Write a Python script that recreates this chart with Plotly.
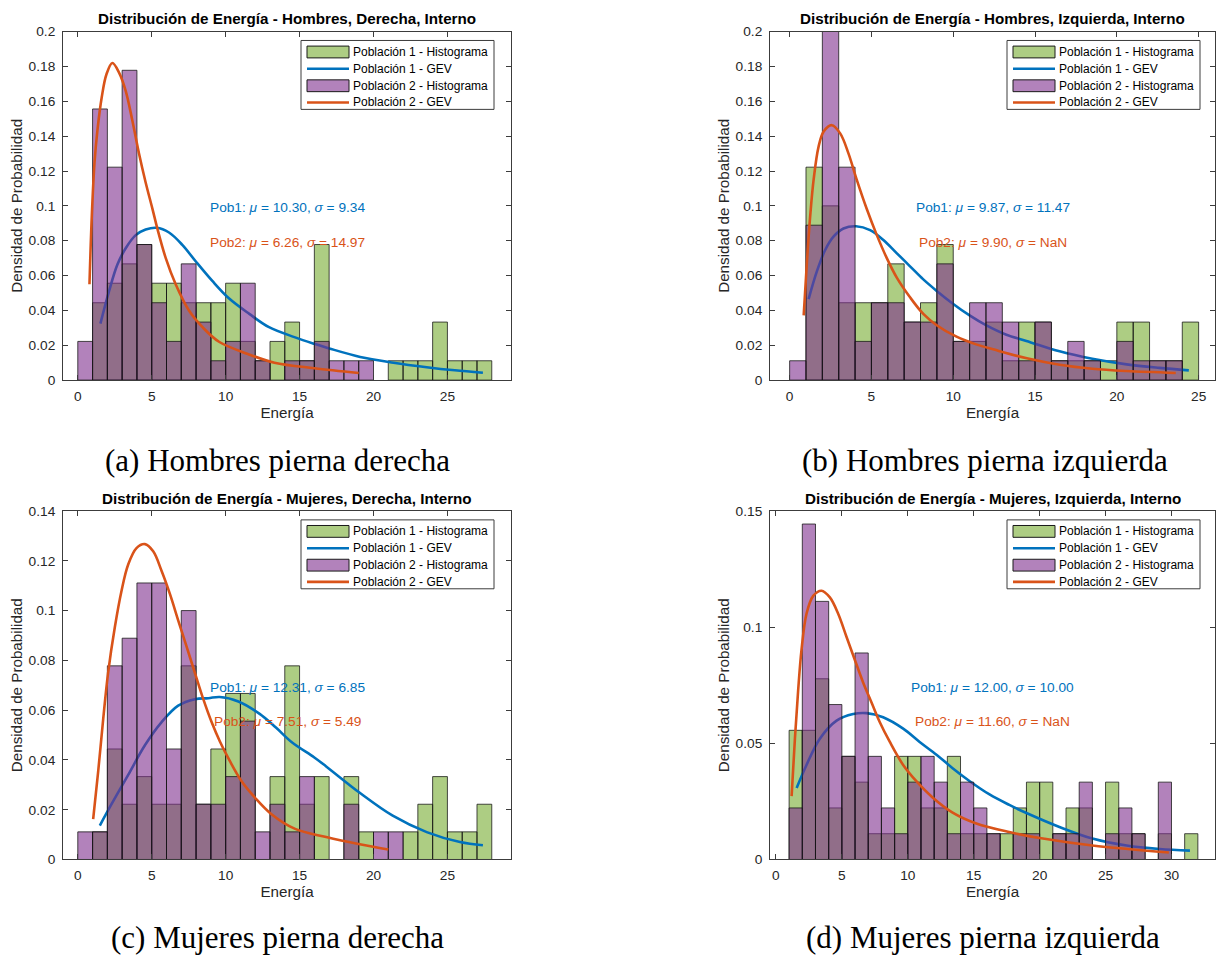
import plotly.graph_objects as go

W, H = 1216, 962
BIN_W = 1.0

# ---------------- (a) Hombres, Derecha ----------------
hd_pob1_start = 0
hd_pob1_dens = [0.0, 0.0444, 0.0556, 0.0667, 0.0778, 0.0556, 0.0556, 0.0444, 0.0444, 0.0444,
                0.0556, 0.0222, 0.0111, 0.0222, 0.0333, 0.0111, 0.0778, 0.0, 0.0, 0.0,
                0.0, 0.0111, 0.0111, 0.0111, 0.0333, 0.0111, 0.0111, 0.0111]
hd_pob2_start = 0
hd_pob2_dens = [0.0222, 0.1556, 0.1222, 0.1778, 0.0778, 0.0444, 0.0222, 0.0667, 0.0333, 0.0111,
                0.0222, 0.0556, 0.0111, 0.0, 0.0111, 0.0111, 0.0222, 0.0111, 0.0111, 0.0111]
hd_gev1_x = [1.53, 2.12, 2.68, 3.24, 3.92, 4.59, 5.34, 6.17, 7.07, 7.97, 9.1, 10.2, 11.6,
             12.9, 14.7, 16.0, 17.0, 19.1, 21.35, 23.6, 25.5, 27.4]
hd_gev1_y = [0.0324, 0.0512, 0.0663, 0.0757, 0.0832, 0.0864, 0.0874, 0.0847, 0.0776, 0.0682,
             0.0569, 0.0471, 0.038, 0.0305, 0.0245, 0.0208, 0.0182, 0.0133, 0.0100, 0.0074,
             0.0056, 0.0042]
hd_gev2_x = [0.79, 0.95, 1.13, 1.33, 1.62, 1.94, 2.34, 2.79, 3.24, 3.69, 4.14, 4.59, 5.05,
             5.38, 5.95, 6.62, 7.52, 8.42, 9.55, 11.5, 13.3, 16.0, 19.0]
hd_gev2_y = [0.055, 0.0945, 0.1247, 0.1435, 0.1623, 0.1755, 0.182, 0.1765, 0.166, 0.149,
             0.130, 0.1134, 0.0983, 0.087, 0.070, 0.055, 0.0399, 0.0305, 0.022, 0.015,
             0.010, 0.0068, 0.0041]
hd_stats = ("10.30", "9.34", "6.26", "14.97")

# ---------------- (b) Hombres, Izquierda ----------------
hi_pob1_start = 0
hi_pob1_dens = [0.0, 0.1222, 0.1, 0.0444, 0.0444, 0.0444, 0.0667, 0.0333, 0.0444, 0.0778,
                0.0222, 0.0222, 0.0333, 0.0111, 0.0333, 0.0333, 0.0111, 0.0111, 0.0111, 0.0111,
                0.0333, 0.0333, 0.0111, 0.0111, 0.0333]
hi_pob2_start = 0
hi_pob2_dens = [0.0111, 0.0889, 0.2111, 0.1222, 0.0222, 0.0444, 0.0444, 0.0333, 0.0333, 0.0667,
                0.0222, 0.0444, 0.0444, 0.0333, 0.0111, 0.0333, 0.0111, 0.0222, 0.0111, 0.0,
                0.0222, 0.0111, 0.0111, 0.0111]
hi_gev1_x = [1.16, 1.67, 2.18, 2.68, 3.29, 4.06, 4.92, 5.73, 6.54, 7.36, 8.17, 8.99, 10.0,
             11.0, 12.0, 13.25, 14.47, 16.5, 18.5, 20.6, 22.6, 24.4]
hi_gev1_y = [0.0465, 0.0625, 0.0748, 0.0823, 0.087, 0.0883, 0.0861, 0.0804, 0.0729, 0.0653,
             0.0578, 0.0512, 0.0437, 0.0371, 0.0315, 0.026, 0.0225, 0.0165, 0.0122, 0.0090,
             0.0070, 0.0056]
hi_gev2_x = [0.86, 1.06, 1.26, 1.47, 1.77, 2.08, 2.58, 3.09, 3.6, 4.1, 4.71, 5.33, 5.94,
             6.55, 7.36, 8.17, 8.99, 10.2, 11.4, 12.5, 14.5, 16.5, 18.5, 20.6, 23.6]
hi_gev2_y = [0.0371, 0.0682, 0.0945, 0.1153, 0.134, 0.1426, 0.1463, 0.1416, 0.130, 0.115,
             0.0983, 0.0832, 0.070, 0.0588, 0.0475, 0.038, 0.0315, 0.0249, 0.0205, 0.0175,
             0.0125, 0.0088, 0.0065, 0.0052, 0.0041]
hi_stats = ("9.87", "11.47", "9.90", "NaN")

# ---------------- (c) Mujeres, Derecha ----------------
md_pob1_start = 0
md_pob1_dens = [0.0, 0.0111, 0.0444, 0.0222, 0.0333, 0.0222, 0.0222, 0.0778, 0.0222, 0.0444,
                0.0667, 0.0667, 0.0, 0.0333, 0.0778, 0.0222, 0.0333, 0.0, 0.0333, 0.0111,
                0.0, 0.0, 0.0111, 0.0222, 0.0333, 0.0111, 0.0111, 0.0222]
md_pob2_start = 0
md_pob2_dens = [0.0111, 0.0111, 0.0778, 0.0889, 0.1111, 0.1111, 0.0444, 0.1, 0.0222, 0.0222,
                0.0333, 0.0556, 0.0111, 0.0222, 0.0111, 0.0333, 0.0, 0.0, 0.0222, 0.0,
                0.0111, 0.0111]
md_gev1_x = [1.49, 2.28, 3.41, 4.54, 5.67, 6.79, 7.92, 8.83, 9.6, 10.86, 12.3, 13.4, 14.5,
             16.0, 16.8, 19.07, 21.3, 23.6, 25.85, 27.4]
md_gev1_y = [0.0136, 0.0222, 0.034, 0.0459, 0.0552, 0.0618, 0.0644, 0.0648, 0.0653, 0.0635,
             0.0585, 0.053, 0.047, 0.041, 0.0374, 0.0268, 0.0176, 0.011, 0.007, 0.0057]
md_gev2_x = [1.04, 1.38, 1.72, 2.05, 2.51, 2.96, 3.41, 3.97, 4.54, 5.1, 5.67, 6.23, 6.79,
             7.36, 7.92, 8.49, 9.05, 9.62, 10.18, 11.08, 11.99, 13.1, 14.7, 16.8, 19.07, 21.0]
md_gev2_y = [0.0162, 0.0354, 0.0565, 0.075, 0.0935, 0.108, 0.1185, 0.1251, 0.1267, 0.1238,
             0.1159, 0.1067, 0.0961, 0.0855, 0.075, 0.0644, 0.0552, 0.0473, 0.0407, 0.0314,
             0.0248, 0.0182, 0.0123, 0.0090, 0.0061, 0.0040]
md_stats = ("12.31", "6.85", "7.51", "5.49")

# ---------------- (d) Mujeres, Izquierda ----------------
mi_pob1_start = 1
mi_pob1_dens = [0.0556, 0.0556, 0.0778, 0.0222, 0.0444, 0.0333, 0.0111, 0.0111, 0.0444, 0.0444,
                0.0222, 0.0222, 0.0444, 0.0111, 0.0111, 0.0111, 0.0111, 0.0222, 0.0333, 0.0333,
                0.0111, 0.0222, 0.0222, 0.0, 0.0333, 0.0111, 0.0111, 0.0, 0.0111, 0.0, 0.0111]
mi_pob2_start = 1
mi_pob2_dens = [0.0222, 0.1444, 0.1111, 0.0667, 0.0444, 0.0889, 0.0444, 0.0222, 0.0111, 0.0333,
                0.0444, 0.0333, 0.0111, 0.0333, 0.0222, 0.0111, 0.0, 0.0111, 0.0111, 0.0,
                0.0111, 0.0111, 0.0333, 0.0, 0.0111, 0.0222, 0.0111, 0.0, 0.0333]
mi_gev1_x = [1.57, 2.32, 3.33, 4.6, 5.86, 6.87, 8.13, 9.65, 10.9, 12.2, 13.4, 14.7, 16.2,
             17.7, 19.0, 21.5, 24.0, 26.6, 29.1, 31.4]
mi_gev1_y = [0.0308, 0.0407, 0.052, 0.0598, 0.0626, 0.063, 0.0612, 0.0563, 0.0506, 0.045,
             0.0393, 0.0337, 0.028, 0.0235, 0.020, 0.0140, 0.0090, 0.0060, 0.0045, 0.0038]
mi_gev2_x = [1.19, 1.44, 1.69, 1.94, 2.32, 2.83, 3.46, 4.09, 4.72, 5.35, 5.98, 6.62, 7.25,
             7.88, 8.64, 9.65, 10.65, 11.9, 13.4, 15.2, 17.7, 20.25, 24.0, 29.8]
mi_gev2_y = [0.0273, 0.052, 0.0732, 0.0902, 0.1058, 0.1135, 0.1157, 0.1128, 0.1058, 0.0959,
             0.086, 0.0761, 0.0676, 0.0591, 0.0506, 0.0407, 0.0337, 0.0266, 0.0202, 0.0155,
             0.0118, 0.0090, 0.0060, 0.0030]
mi_stats = ("12.00", "10.00", "11.60", "NaN")

titles = [
    "Distribución de Energía - Hombres, Derecha, Interno",
    "Distribución de Energía - Hombres, Izquierda, Interno",
    "Distribución de Energía - Mujeres, Derecha, Interno",
    "Distribución de Energía - Mujeres, Izquierda, Interno",
]
captions = [
    "(a) Hombres pierna derecha",
    "(b) Hombres pierna izquierda",
    "(c) Mujeres pierna derecha",
    "(d) Mujeres pierna izquierda",
]
legend_names = ["Población 1 - Histograma", "Población 1 - GEV",
                "Población 2 - Histograma", "Población 2 - GEV"]

panels = [
    dict(p1=(hd_pob1_start, hd_pob1_dens), p2=(hd_pob2_start, hd_pob2_dens),
         g1=(hd_gev1_x, hd_gev1_y), g2=(hd_gev2_x, hd_gev2_y), stats=hd_stats,
         xrange=[-1.0, 29.3], yrange=[0, 0.2], dtick_y=0.02),
    dict(p1=(hi_pob1_start, hi_pob1_dens), p2=(hi_pob2_start, hi_pob2_dens),
         g1=(hi_gev1_x, hi_gev1_y), g2=(hi_gev2_x, hi_gev2_y), stats=hi_stats,
         xrange=[-1.2, 26.0], yrange=[0, 0.2], dtick_y=0.02),
    dict(p1=(md_pob1_start, md_pob1_dens), p2=(md_pob2_start, md_pob2_dens),
         g1=(md_gev1_x, md_gev1_y), g2=(md_gev2_x, md_gev2_y), stats=md_stats,
         xrange=[-1.0, 29.3], yrange=[0, 0.14], dtick_y=0.02),
    dict(p1=(mi_pob1_start, mi_pob1_dens), p2=(mi_pob2_start, mi_pob2_dens),
         g1=(mi_gev1_x, mi_gev1_y), g2=(mi_gev2_x, mi_gev2_y), stats=mi_stats,
         xrange=[-0.45, 33.3], yrange=[0, 0.15], dtick_y=0.05),
]

# pixel boxes of each axes: (left, right, top, bottom)
boxes = [(63, 511, 25, 379), (770, 1215, 25, 379),
         (63, 511, 512, 866), (770, 1215, 512, 866)]
# right edge of each legend box, in pixels
legend_right = [494, 1200, 494, 1200]
caption_pos = [(277, 461), (985, 461), (277, 945), (983, 945)]

SANS = "Liberation Sans, Arial, Helvetica, sans-serif"
SERIF = "Liberation Serif, Times New Roman, serif"
AX_COL = "#3c3c3c"
TXT_COL = "#262626"
GREEN_FILL = "rgba(119,172,48,0.6)"
PURPLE_FILL = "rgba(126,47,142,0.6)"
BLUE = "#0072BD"
ORANGE = "#D95319"
EDGE = "rgba(20,20,20,0.85)"


def hist_outline(start, dens):
    xs, ys = [], []
    for i, h in enumerate(dens):
        if h <= 0:
            continue
        left = start + i * BIN_W
        right = left + BIN_W
        xs += [left, left, right, right, left, None]
        ys += [0, h, h, 0, 0, None]
    return xs, ys


def px(x):
    return x / W


def py(y):
    return 1 - y / H


fig = go.Figure()
annotations = []
shapes = []

for k, p in enumerate(panels):
    n = "" if k == 0 else str(k + 1)
    xa, ya = "x" + n, "y" + n
    gx, gy = hist_outline(*p["p1"])
    px_, py_ = hist_outline(*p["p2"])
    fig.add_trace(go.Scatter(x=gx, y=gy, mode="lines", fill="toself", fillcolor=GREEN_FILL,
                             line=dict(color=EDGE, width=0.9), name=legend_names[0],
                             xaxis=xa, yaxis=ya, showlegend=False, hoverinfo="skip"))
    fig.add_trace(go.Scatter(x=p["g1"][0], y=p["g1"][1], mode="lines",
                             line=dict(color=BLUE, width=2.6, shape="spline", smoothing=1.0),
                             name=legend_names[1], xaxis=xa, yaxis=ya, showlegend=False))
    fig.add_trace(go.Scatter(x=px_, y=py_, mode="lines", fill="toself", fillcolor=PURPLE_FILL,
                             line=dict(color=EDGE, width=0.9), name=legend_names[2],
                             xaxis=xa, yaxis=ya, showlegend=False, hoverinfo="skip"))
    fig.add_trace(go.Scatter(x=p["g2"][0], y=p["g2"][1], mode="lines",
                             line=dict(color=ORANGE, width=2.6, shape="spline", smoothing=1.0),
                             name=legend_names[3], xaxis=xa, yaxis=ya, showlegend=False))

    l, r, t, b = boxes[k]
    axis_common = dict(showline=True, mirror="ticks", linecolor=AX_COL, linewidth=1,
                       ticks="inside", ticklen=5, tickcolor=AX_COL, tickwidth=1,
                       showgrid=False, zeroline=False,
                       tickfont=dict(family=SANS, size=13.7, color=TXT_COL))
    fig.update_layout(**{
        "xaxis" + n: dict(domain=[px(l), px(r)], anchor=ya, range=p["xrange"], dtick=5, tick0=0,
                          title=dict(text="Energía", standoff=4,
                                     font=dict(family=SANS, size=15.2, color=TXT_COL)),
                          ticklabelstandoff=3, **axis_common),
        "yaxis" + n: dict(domain=[py(b), py(t)], anchor=xa, range=p["yrange"],
                          dtick=p["dtick_y"], tick0=0,
                          title=dict(text="Densidad de Probabilidad", standoff=2,
                                     font=dict(family=SANS, size=15.2, color=TXT_COL)),
                          ticklabelstandoff=4, **axis_common),
    })

    # legend box: patches for the histograms, line samples for the GEV fits
    lr = legend_right[k]
    ll = lr - 193
    lt = t + 9
    lb = lt + 70
    shapes.append(dict(type="rect", xref="paper", yref="paper", layer="above",
                       x0=px(ll), x1=px(lr), y0=py(lb), y1=py(lt),
                       fillcolor="white", line=dict(color=AX_COL, width=1)))
    row_offsets = [11.7, 28.8, 46.0, 63.0]
    for j, name in enumerate(legend_names):
        yc = lt + row_offsets[j]
        ix0, ix1 = ll + 6, ll + 48
        if j in (0, 2):
            shapes.append(dict(type="rect", xref="paper", yref="paper", layer="above",
                               x0=px(ix0), x1=px(ix1), y0=py(yc + 6), y1=py(yc - 6),
                               fillcolor=GREEN_FILL if j == 0 else PURPLE_FILL,
                               line=dict(color="#1a1a1a", width=1)))
        else:
            shapes.append(dict(type="line", xref="paper", yref="paper", layer="above",
                               x0=px(ix0), x1=px(ix1), y0=py(yc), y1=py(yc),
                               line=dict(color=BLUE if j == 1 else ORANGE, width=2.6)))
        annotations.append(dict(text=name, x=px(ll + 50), y=py(yc), xref="paper", yref="paper",
                                xanchor="left", yanchor="middle", showarrow=False,
                                font=dict(family=SANS, size=12.0, color="#000000")))

    # panel title
    annotations.append(dict(text="<b>" + titles[k] + "</b>", x=px((l + r) / 2), y=py(t - 13),
                            xref="paper", yref="paper", xanchor="center", yanchor="middle",
                            showarrow=False, font=dict(family=SANS, size=15.2, color="#000000")))
    # fitted parameter labels
    m1, s1, m2, s2 = p["stats"]
    annotations.append(dict(text=f"Pob1: <i>μ</i> = {m1}, <i>σ</i> = {s1}",
                            x=0.5, y=0.494, xref=xa + " domain", yref=ya + " domain",
                            xanchor="center", yanchor="middle", showarrow=False,
                            font=dict(family=SANS, size=13.7, color=BLUE)))
    annotations.append(dict(text=f"Pob2: <i>μ</i> = {m2}, <i>σ</i> = {s2}",
                            x=0.5, y=0.395, xref=xa + " domain", yref=ya + " domain",
                            xanchor="center", yanchor="middle", showarrow=False,
                            font=dict(family=SANS, size=13.7, color=ORANGE)))
    # sub-figure caption
    cx, cy = caption_pos[k]
    annotations.append(dict(text=captions[k], x=px(cx), y=py(cy), xref="paper", yref="paper",
                            xanchor="center", yanchor="middle", showarrow=False,
                            font=dict(family=SERIF, size=31, color="#000000")))

fig.update_layout(width=W, height=H, margin=dict(l=0, r=0, t=0, b=0),
                  paper_bgcolor="white", plot_bgcolor="white",
                  showlegend=False, annotations=annotations, shapes=shapes)

fig.write_html("out.html")
